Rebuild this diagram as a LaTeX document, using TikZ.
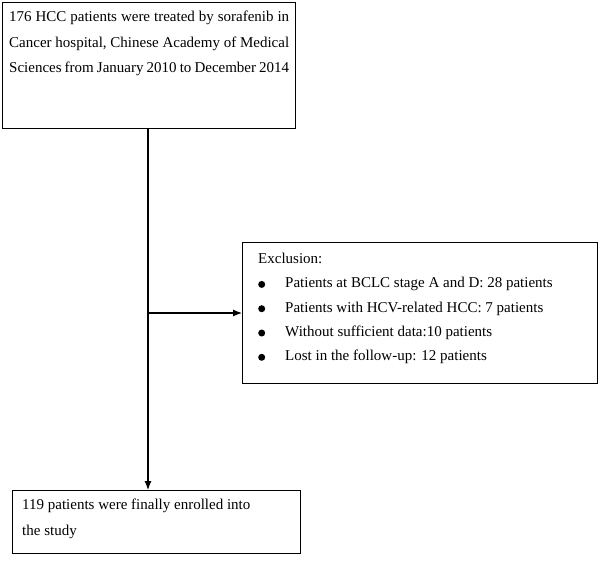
\documentclass[tikz,border=0pt]{standalone}
\usepackage{fontspec}
\setmainfont{Liberation Serif}
\usetikzlibrary{positioning,arrows.meta}
\newcommand{\itembul}{\makebox[27pt][l]{\tikz[baseline=-3.5pt]\fill (3.5pt,0) circle (3.5pt);}}
\begin{document}
\begin{tikzpicture}[x=1pt, y=-1pt,
    stagebox/.style={draw, line width=0.8pt, inner sep=0pt},
    stagetext/.style={font=\fontsize{15}{25.5}\selectfont, inner sep=0pt, anchor=north west},
    flowarrow/.style={-{Latex[length=9pt,width=7pt]}, line width=1.2pt}]
    \useasboundingbox (0,0) rectangle (600,567);

    % Boxes
    \node[stagebox, minimum width=293, minimum height=126, anchor=north west] (source) at (2,2) {};
    \node[stagetext, text width=280, align=justify] (sourcetext) at (9,11)
        {176 HCC patients were treated by sorafenib in Cancer hospital, Chinese Academy of Medical Sciences from January 2010 to December 2014\par};

    \node[stagebox, minimum width=355, minimum height=141, anchor=north west] (exclusion) at (242,242) {};
    \node[stagetext, font=\fontsize{15}{24.3}\selectfont, align=left] (exclusiontext) at (258,253)
        {Exclusion:\\
         \itembul Patients at BCLC stage A and D: 28 patients\\
         \itembul Patients with HCV-related HCC: 7 patients\\
         \itembul Without sufficient data:10 patients\\
         \itembul Lost in the follow-up: 12 patients};

    \node[stagebox, minimum width=288, minimum height=63, anchor=north west] (enrolled) at (12,490) {};
    \node[stagetext, align=left] (enrolledtext) at (22,499)
        {119 patients were finally enrolled into\\the study};

    % Connectors
    \coordinate (split) at (148,313);
    \draw[flowarrow] (source.south -| split) -- (enrolled.north -| split);
    \draw[flowarrow] (split) -- (exclusion.west |- split);
\end{tikzpicture}
\end{document}
